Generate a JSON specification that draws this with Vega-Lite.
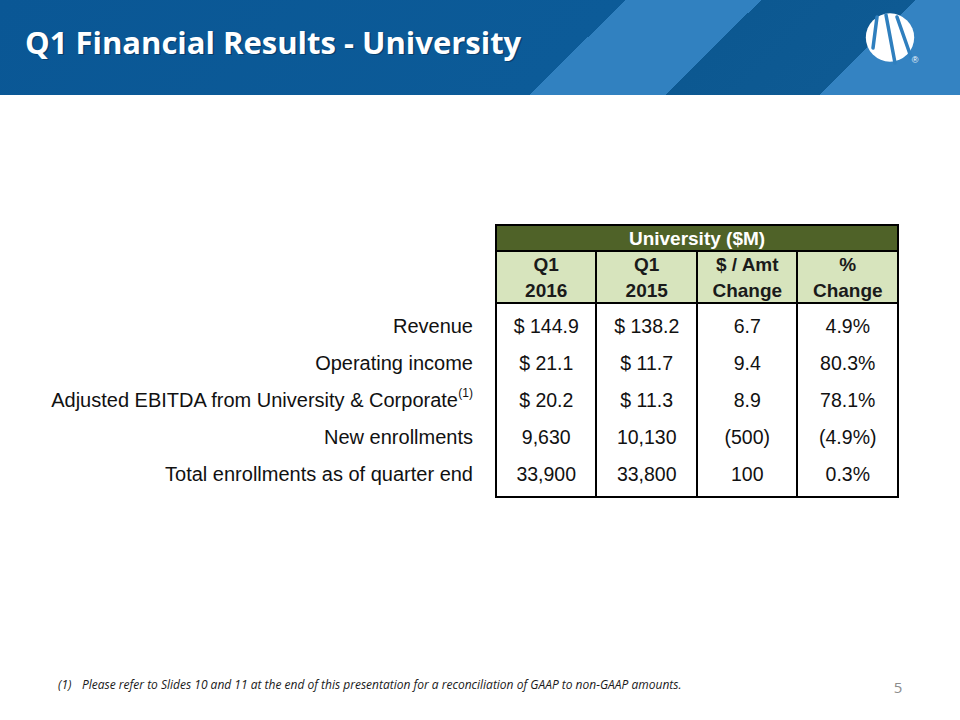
{
  "$schema": "https://vega.github.io/schema/vega-lite/v6.json",
  "width": 960,
  "height": 720,
  "padding": 0,
  "autosize": {"type": "fit", "contains": "padding"},
  "background": "white",
  "config": {"view": {"stroke": null}, "axis": {"disable": true}, "legend": {"disable": true}},
  "datasets": {
    "table": [
      {"metric": "Revenue", "note": "", "q1_2016": "$ 144.9", "q1_2015": "$ 138.2", "amt_change": "6.7", "pct_change": "4.9%"},
      {"metric": "Operating income", "note": "", "q1_2016": "$ 21.1", "q1_2015": "$ 11.7", "amt_change": "9.4", "pct_change": "80.3%"},
      {"metric": "Adjusted EBITDA from University & Corporate", "note": "(1)", "q1_2016": "$ 20.2", "q1_2015": "$ 11.3", "amt_change": "8.9", "pct_change": "78.1%"},
      {"metric": "New enrollments", "note": "", "q1_2016": "9,630", "q1_2015": "10,130", "amt_change": "(500)", "pct_change": "(4.9%)"},
      {"metric": "Total enrollments as of quarter end", "note": "", "q1_2016": "33,900", "q1_2015": "33,800", "amt_change": "100", "pct_change": "0.3%"}
    ],
    "columns": [
      {"column": "q1_2016", "line1": "Q1", "line2": "2016"},
      {"column": "q1_2015", "line1": "Q1", "line2": "2015"},
      {"column": "amt_change", "line1": "$ / Amt", "line2": "Change"},
      {"column": "pct_change", "line1": "%", "line2": "Change"}
    ]
  },
  "layer": [
    {
      "data": {"values": [{}]},
      "layer": [
        {
          "mark": {"type": "rect", "fill": {"gradient": "linear", "x1": 0, "y1": 0, "x2": 1, "y2": 0.1, "stops": [
            {"offset": 0, "color": "#0A5795"},
            {"offset": 0.645, "color": "#0C5B98"},
            {"offset": 0.645, "color": "#3181C0"},
            {"offset": 0.785, "color": "#3181C0"},
            {"offset": 0.785, "color": "#0C5891"},
            {"offset": 0.944, "color": "#0E5A93"},
            {"offset": 0.944, "color": "#3483C2"},
            {"offset": 1, "color": "#3483C2"}]}},
          "encoding": {
            "x": {"datum": 0, "type": "quantitative", "scale": {"domain": [0, 960], "range": [0, 960], "nice": false, "zero": false}},
            "x2": {"datum": 960},
            "y": {"datum": 0, "type": "quantitative", "scale": {"domain": [0, 720], "range": [0, 720], "nice": false, "zero": false}},
            "y2": {"datum": 95}
          }
        },
        {
          "mark": {"type": "point", "shape": "circle", "filled": true, "color": "white", "opacity": 1, "size": 2340, "strokeWidth": 0},
          "encoding": {
            "x": {"datum": 890, "type": "quantitative", "scale": {"domain": [0, 960], "range": [0, 960], "nice": false, "zero": false}},
            "y": {"datum": 37.5, "type": "quantitative", "scale": {"domain": [0, 720], "range": [0, 720], "nice": false, "zero": false}}
          }
        },
        {
          "mark": {"type": "rule", "color": "#2F7FBE", "strokeWidth": 3.5, "strokeCap": "round"},
          "encoding": {
            "x": {"datum": 877, "type": "quantitative", "scale": {"domain": [0, 960], "range": [0, 960], "nice": false, "zero": false}},
            "x2": {"datum": 873},
            "y": {"datum": 17, "type": "quantitative", "scale": {"domain": [0, 720], "range": [0, 720], "nice": false, "zero": false}},
            "y2": {"datum": 48}
          }
        },
        {
          "mark": {"type": "rule", "color": "#2F7FBE", "strokeWidth": 3.5, "strokeCap": "round"},
          "encoding": {
            "x": {"datum": 886, "type": "quantitative", "scale": {"domain": [0, 960], "range": [0, 960], "nice": false, "zero": false}},
            "x2": {"datum": 895},
            "y": {"datum": 15, "type": "quantitative", "scale": {"domain": [0, 720], "range": [0, 720], "nice": false, "zero": false}},
            "y2": {"datum": 63}
          }
        },
        {
          "mark": {"type": "rule", "color": "#2F7FBE", "strokeWidth": 3.5, "strokeCap": "round"},
          "encoding": {
            "x": {"datum": 897, "type": "quantitative", "scale": {"domain": [0, 960], "range": [0, 960], "nice": false, "zero": false}},
            "x2": {"datum": 911},
            "y": {"datum": 17, "type": "quantitative", "scale": {"domain": [0, 720], "range": [0, 720], "nice": false, "zero": false}},
            "y2": {"datum": 57}
          }
        },
        {
          "mark": {"type": "text", "text": "®", "color": "white", "fontSize": 9, "font": "Liberation Sans", "align": "center", "baseline": "middle"},
          "encoding": {
            "x": {"datum": 915, "type": "quantitative", "scale": {"domain": [0, 960], "range": [0, 960], "nice": false, "zero": false}},
            "y": {"datum": 60, "type": "quantitative", "scale": {"domain": [0, 720], "range": [0, 720], "nice": false, "zero": false}}
          }
        },
        {
          "mark": {"type": "text", "text": "Q1 Financial Results - University", "color": "#06243F", "opacity": 0.45, "fontSize": 31, "fontWeight": "bold", "font": "Open Sans", "align": "left", "baseline": "alphabetic"},
          "encoding": {
            "x": {"datum": 26.5, "type": "quantitative", "scale": {"domain": [0, 960], "range": [0, 960], "nice": false, "zero": false}},
            "y": {"datum": 55, "type": "quantitative", "scale": {"domain": [0, 720], "range": [0, 720], "nice": false, "zero": false}}
          }
        },
        {
          "mark": {"type": "text", "text": "Q1 Financial Results - University", "color": "white", "fontSize": 31, "fontWeight": "bold", "font": "Open Sans", "align": "left", "baseline": "alphabetic"},
          "encoding": {
            "x": {"datum": 25, "type": "quantitative", "scale": {"domain": [0, 960], "range": [0, 960], "nice": false, "zero": false}},
            "y": {"datum": 53.5, "type": "quantitative", "scale": {"domain": [0, 720], "range": [0, 720], "nice": false, "zero": false}}
          }
        },
        {
          "mark": {"type": "rect", "color": "#4F6228"},
          "encoding": {
            "x": {"datum": 496, "type": "quantitative", "scale": {"domain": [0, 960], "range": [0, 960], "nice": false, "zero": false}},
            "x2": {"datum": 898},
            "y": {"datum": 225, "type": "quantitative", "scale": {"domain": [0, 720], "range": [0, 720], "nice": false, "zero": false}},
            "y2": {"datum": 251}
          }
        },
        {
          "mark": {"type": "rect", "color": "#D7E4BD"},
          "encoding": {
            "x": {"datum": 496, "type": "quantitative", "scale": {"domain": [0, 960], "range": [0, 960], "nice": false, "zero": false}},
            "x2": {"datum": 898},
            "y": {"datum": 251, "type": "quantitative", "scale": {"domain": [0, 720], "range": [0, 720], "nice": false, "zero": false}},
            "y2": {"datum": 303}
          }
        },
        {
          "layer": [
            {"mark": {"type": "rule", "color": "black", "strokeWidth": 2},
             "encoding": {"x": {"datum": 495, "type": "quantitative", "scale": {"domain": [0, 960], "range": [0, 960], "nice": false, "zero": false}}, "x2": {"datum": 899},
                          "y": {"datum": 225, "type": "quantitative", "scale": {"domain": [0, 720], "range": [0, 720], "nice": false, "zero": false}}}},
            {"mark": {"type": "rule", "color": "black", "strokeWidth": 2},
             "encoding": {"x": {"datum": 495, "type": "quantitative", "scale": {"domain": [0, 960], "range": [0, 960], "nice": false, "zero": false}}, "x2": {"datum": 899},
                          "y": {"datum": 251, "type": "quantitative", "scale": {"domain": [0, 720], "range": [0, 720], "nice": false, "zero": false}}}},
            {"mark": {"type": "rule", "color": "black", "strokeWidth": 2},
             "encoding": {"x": {"datum": 495, "type": "quantitative", "scale": {"domain": [0, 960], "range": [0, 960], "nice": false, "zero": false}}, "x2": {"datum": 899},
                          "y": {"datum": 303, "type": "quantitative", "scale": {"domain": [0, 720], "range": [0, 720], "nice": false, "zero": false}}}},
            {"mark": {"type": "rule", "color": "black", "strokeWidth": 2},
             "encoding": {"x": {"datum": 495, "type": "quantitative", "scale": {"domain": [0, 960], "range": [0, 960], "nice": false, "zero": false}}, "x2": {"datum": 899},
                          "y": {"datum": 497, "type": "quantitative", "scale": {"domain": [0, 720], "range": [0, 720], "nice": false, "zero": false}}}},
            {"mark": {"type": "rule", "color": "black", "strokeWidth": 2},
             "encoding": {"x": {"datum": 496, "type": "quantitative", "scale": {"domain": [0, 960], "range": [0, 960], "nice": false, "zero": false}},
                          "y": {"datum": 224, "type": "quantitative", "scale": {"domain": [0, 720], "range": [0, 720], "nice": false, "zero": false}}, "y2": {"datum": 498}}},
            {"mark": {"type": "rule", "color": "black", "strokeWidth": 2},
             "encoding": {"x": {"datum": 898, "type": "quantitative", "scale": {"domain": [0, 960], "range": [0, 960], "nice": false, "zero": false}},
                          "y": {"datum": 224, "type": "quantitative", "scale": {"domain": [0, 720], "range": [0, 720], "nice": false, "zero": false}}, "y2": {"datum": 498}}},
            {"mark": {"type": "rule", "color": "black", "strokeWidth": 2},
             "encoding": {"x": {"datum": 596, "type": "quantitative", "scale": {"domain": [0, 960], "range": [0, 960], "nice": false, "zero": false}},
                          "y": {"datum": 251, "type": "quantitative", "scale": {"domain": [0, 720], "range": [0, 720], "nice": false, "zero": false}}, "y2": {"datum": 497}}},
            {"mark": {"type": "rule", "color": "black", "strokeWidth": 2},
             "encoding": {"x": {"datum": 697, "type": "quantitative", "scale": {"domain": [0, 960], "range": [0, 960], "nice": false, "zero": false}},
                          "y": {"datum": 251, "type": "quantitative", "scale": {"domain": [0, 720], "range": [0, 720], "nice": false, "zero": false}}, "y2": {"datum": 497}}},
            {"mark": {"type": "rule", "color": "black", "strokeWidth": 2},
             "encoding": {"x": {"datum": 797, "type": "quantitative", "scale": {"domain": [0, 960], "range": [0, 960], "nice": false, "zero": false}},
                          "y": {"datum": 251, "type": "quantitative", "scale": {"domain": [0, 720], "range": [0, 720], "nice": false, "zero": false}}, "y2": {"datum": 497}}}
          ]
        },
        {
          "mark": {"type": "text", "text": "University ($M)", "color": "white", "fontSize": 19, "fontWeight": "bold", "font": "Liberation Sans", "align": "center", "baseline": "middle"},
          "encoding": {
            "x": {"datum": 697, "type": "quantitative", "scale": {"domain": [0, 960], "range": [0, 960], "nice": false, "zero": false}},
            "y": {"datum": 238.5, "type": "quantitative", "scale": {"domain": [0, 720], "range": [0, 720], "nice": false, "zero": false}}
          }
        },
        {
          "mark": {"type": "text", "text": "(1)", "color": "#1A1A1A", "fontSize": 12, "fontStyle": "italic", "font": "Open Sans", "align": "left", "baseline": "middle"},
          "encoding": {
            "x": {"datum": 58, "type": "quantitative", "scale": {"domain": [0, 960], "range": [0, 960], "nice": false, "zero": false}},
            "y": {"datum": 685, "type": "quantitative", "scale": {"domain": [0, 720], "range": [0, 720], "nice": false, "zero": false}}
          }
        },
        {
          "mark": {"type": "text", "text": "Please refer to Slides 10 and 11 at the end of this presentation for a reconciliation of GAAP to non-GAAP amounts.", "color": "#1A1A1A", "fontSize": 12, "fontStyle": "italic", "font": "Open Sans", "align": "left", "baseline": "middle"},
          "encoding": {
            "x": {"datum": 82, "type": "quantitative", "scale": {"domain": [0, 960], "range": [0, 960], "nice": false, "zero": false}},
            "y": {"datum": 685, "type": "quantitative", "scale": {"domain": [0, 720], "range": [0, 720], "nice": false, "zero": false}}
          }
        },
        {
          "mark": {"type": "text", "text": "5", "color": "#8C8C8C", "fontSize": 15, "font": "Open Sans", "align": "center", "baseline": "middle"},
          "encoding": {
            "x": {"datum": 898, "type": "quantitative", "scale": {"domain": [0, 960], "range": [0, 960], "nice": false, "zero": false}},
            "y": {"datum": 688, "type": "quantitative", "scale": {"domain": [0, 720], "range": [0, 720], "nice": false, "zero": false}}
          }
        }
      ]
    },
    {
      "data": {"name": "columns"},
      "layer": [
        {
          "mark": {"type": "text", "color": "#1A1A1A", "fontSize": 19, "fontWeight": "bold", "font": "Liberation Sans", "align": "center", "baseline": "middle"},
          "encoding": {
            "x": {"field": "column", "type": "nominal", "scale": {"domain": ["q1_2016", "q1_2015", "amt_change", "pct_change"], "range": [496, 898], "paddingInner": 0, "paddingOuter": 0}},
            "y": {"datum": 265, "type": "quantitative", "scale": {"domain": [0, 720], "range": [0, 720], "nice": false, "zero": false}},
            "text": {"field": "line1"}
          }
        },
        {
          "mark": {"type": "text", "color": "#1A1A1A", "fontSize": 19, "fontWeight": "bold", "font": "Liberation Sans", "align": "center", "baseline": "middle"},
          "encoding": {
            "x": {"field": "column", "type": "nominal", "scale": {"domain": ["q1_2016", "q1_2015", "amt_change", "pct_change"], "range": [496, 898], "paddingInner": 0, "paddingOuter": 0}},
            "y": {"datum": 291, "type": "quantitative", "scale": {"domain": [0, 720], "range": [0, 720], "nice": false, "zero": false}},
            "text": {"field": "line2"}
          }
        }
      ]
    },
    {
      "data": {"name": "table"},
      "transform": [{"fold": ["q1_2016", "q1_2015", "amt_change", "pct_change"], "as": ["column", "value"]}],
      "mark": {"type": "text", "color": "#111111", "fontSize": 19.5, "font": "Liberation Sans", "align": "center", "baseline": "middle"},
      "encoding": {
        "x": {"field": "column", "type": "nominal", "scale": {"domain": ["q1_2016", "q1_2015", "amt_change", "pct_change"], "range": [496, 898], "paddingInner": 0, "paddingOuter": 0}},
        "y": {"field": "metric", "type": "nominal", "scale": {"domain": ["Revenue", "Operating income", "Adjusted EBITDA from University & Corporate", "New enrollments", "Total enrollments as of quarter end"], "range": [308, 493], "paddingInner": 0, "paddingOuter": 0}},
        "text": {"field": "value"}
      }
    },
    {
      "data": {"name": "table"},
      "encoding": {
        "x": {"datum": 473, "type": "quantitative", "scale": {"domain": [0, 960], "range": [0, 960], "nice": false, "zero": false}},
        "y": {"field": "metric", "type": "nominal", "scale": {"domain": ["Revenue", "Operating income", "Adjusted EBITDA from University & Corporate", "New enrollments", "Total enrollments as of quarter end"], "range": [308, 493], "paddingInner": 0, "paddingOuter": 0}}
      },
      "layer": [
        {
          "transform": [{"filter": "datum.note == ''"}],
          "mark": {"type": "text", "color": "#111111", "fontSize": 20, "font": "Liberation Sans", "align": "right", "baseline": "middle"},
          "encoding": {"text": {"field": "metric"}}
        },
        {
          "transform": [{"filter": "datum.note != ''"}],
          "mark": {"type": "text", "color": "#111111", "fontSize": 20, "font": "Liberation Sans", "align": "right", "baseline": "middle", "dx": -15},
          "encoding": {"text": {"field": "metric"}}
        },
        {
          "transform": [{"filter": "datum.note != ''"}],
          "mark": {"type": "text", "color": "#111111", "fontSize": 12, "font": "Liberation Sans", "align": "right", "baseline": "middle", "dy": -8},
          "encoding": {"text": {"field": "note"}}
        }
      ]
    }
  ],
  "resolve": {"scale": {"x": "independent", "y": "independent"}}
}
